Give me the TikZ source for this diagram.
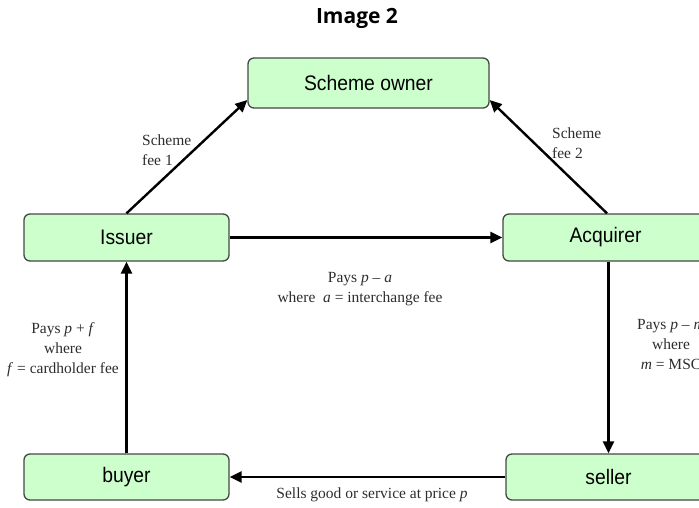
\documentclass[tikz,border=0pt]{standalone}
\usepackage{fontspec}
\setmainfont{Liberation Serif}
\newfontfamily\boxfont[FakeStretch=0.92]{Liberation Sans}
\newfontfamily\titlefont{Open Sans}
\usetikzlibrary{arrows.meta}
\definecolor{boxfill}{RGB}{204,255,204}
\definecolor{boxline}{RGB}{70,70,70}
\definecolor{labelgray}{RGB}{45,45,45}
\newcommand{\var}[1]{\textit{#1}}
\begin{document}
\begin{tikzpicture}[x=1pt,y=-1pt,
  party/.style={draw=boxline, fill=boxfill, line width=1.3pt, rounded corners=6pt,
    minimum height=47pt, inner sep=0pt, font=\boxfont\fontsize{21}{24}\selectfont},
  flow/.style={line width=2.4pt, -{Triangle[length=12pt,width=11pt]}},
  note/.style={text=labelgray, inner sep=0pt, font=\fontsize{15.5}{20}\selectfont}]
\useasboundingbox (0,0) rectangle (699,507);
\clip (0,0) rectangle (699,507);

% title
\node[font=\titlefont\bfseries\fontsize{21}{24}\selectfont] (title) at (357,18) {Image 2};

% parties
\node[party, minimum width=241pt, minimum height=50pt] (owner) at (368.5,83) {Scheme owner};
\node[party, minimum width=205pt] (issuer) at (126.5,237.5) {Issuer};
\node[party, minimum width=205pt] (acquirer) at (605.5,237.5) {Acquirer};
\node[party, minimum width=205pt, minimum height=46pt] (buyer) at (126.5,477) {buyer};
\node[party, minimum width=205pt, minimum height=46pt] (seller) at (608.5,477) {seller};

% money and goods flows
\draw[flow] (issuer.north) -- ([yshift=-17pt]owner.west);
\draw[flow] ([xshift=1.5pt]acquirer.north) -- ([yshift=-17pt]owner.east);
\draw[flow] (issuer.east) -- (acquirer.west);
\draw[flow] (seller.north |- acquirer.south) -- (seller.north);
\draw[flow] (buyer.north) -- (issuer.south);
\draw[flow] (seller.west) -- (buyer.east);

% flow labels
\node[note, align=left, anchor=west] (fee1) at (142,150) {Scheme\\fee 1};
\node[note, align=left, anchor=west] (fee2) at (552,143) {Scheme\\fee 2};
\node[note, align=center] (pa) at (360,289) {Pays \var{p} – \var{a}\\where\ \ \var{a} = interchange fee};
\node[note, align=center] (pf) at (63,350) {Pays \var{p} + \var{f}\\where\\\var{f} = cardholder fee};
\node[note, align=center] (pm) at (671,344) {Pays \var{p} – \var{m}\\where\\\var{m} = MSC};
\node[note] (sells) at (372,495) {Sells good or service at price \var{p}};
\end{tikzpicture}
\end{document}
